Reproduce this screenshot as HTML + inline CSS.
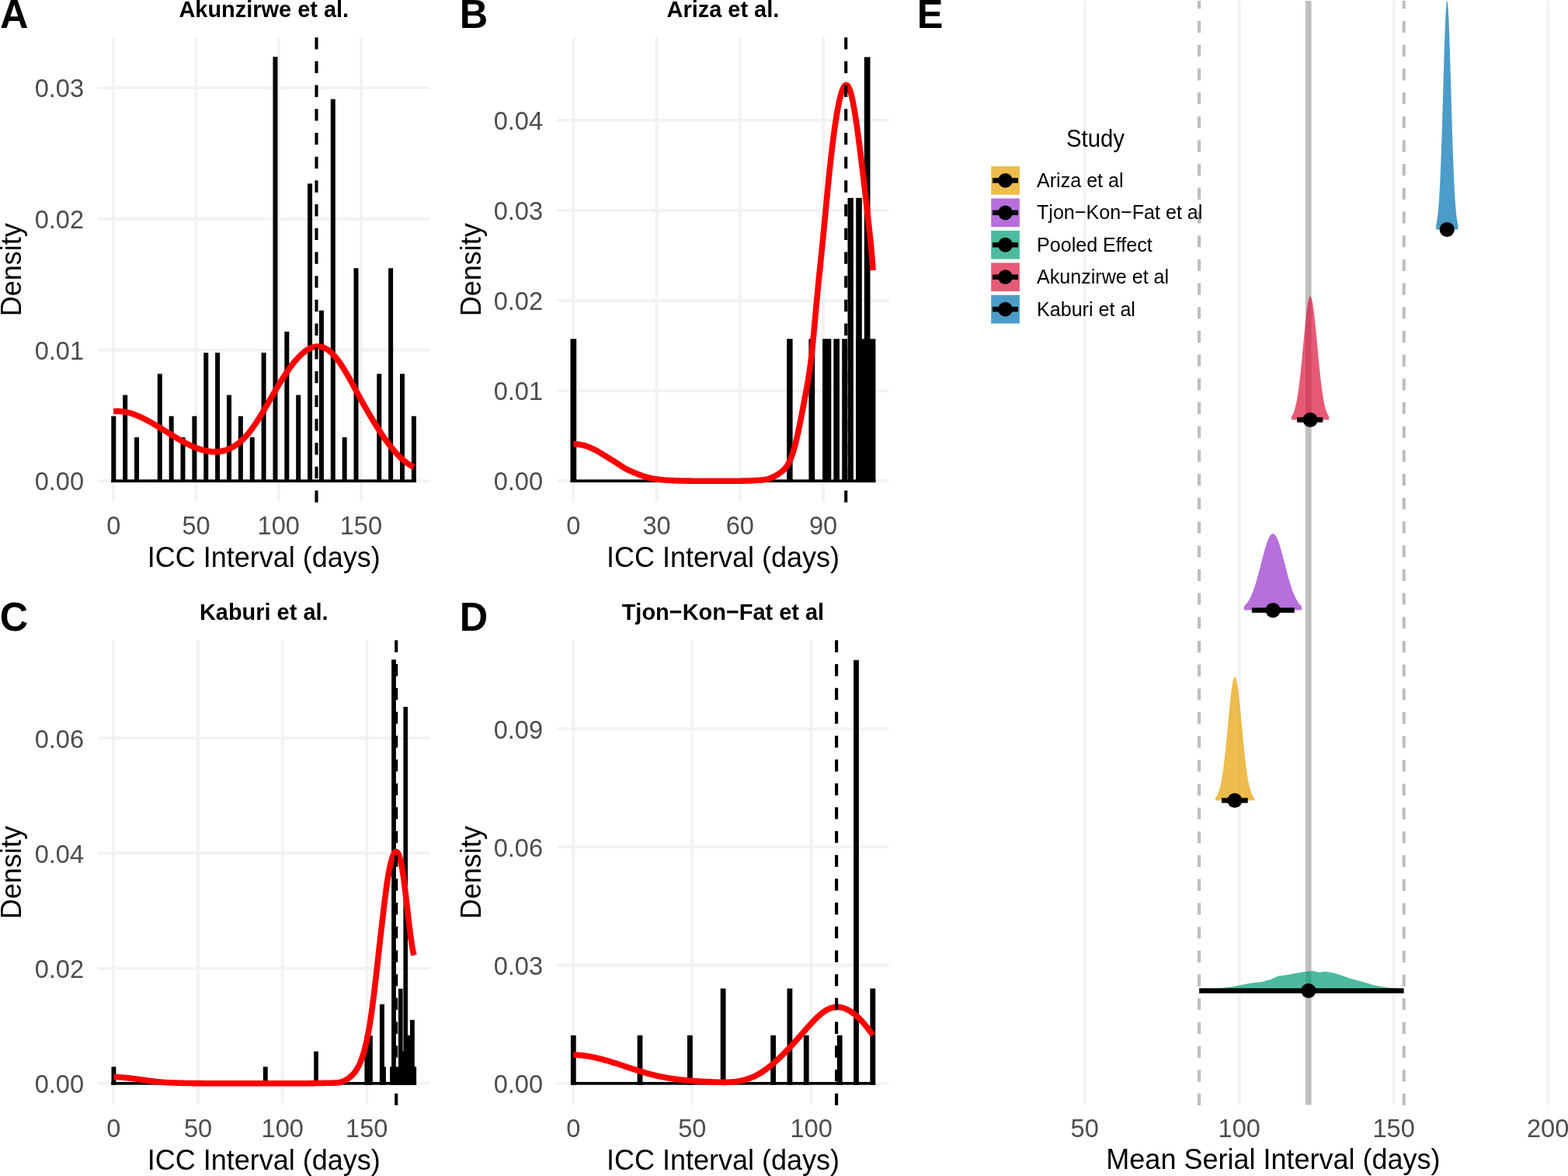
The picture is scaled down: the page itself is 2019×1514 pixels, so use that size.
<!DOCTYPE html>
<html><head><meta charset="utf-8"><title>Figure</title>
<style>html,body{margin:0;padding:0;background:#fff;}svg{display:block;}
text{font-family:"Liberation Sans",Arial,Helvetica,sans-serif;}</style></head>
<body><svg width="2019" height="1514" viewBox="0 0 2019 1514">
<rect width="2019" height="1514" fill="#fff"/>
<line x1="126" y1="619.2" x2="553.5" y2="619.2" stroke="#F2F2F2" stroke-width="3.8"/>
<line x1="126" y1="450.5" x2="553.5" y2="450.5" stroke="#F2F2F2" stroke-width="3.8"/>
<line x1="126" y1="281.8" x2="553.5" y2="281.8" stroke="#F2F2F2" stroke-width="3.8"/>
<line x1="126" y1="113.1" x2="553.5" y2="113.1" stroke="#F2F2F2" stroke-width="3.8"/>
<line x1="146.3" y1="48" x2="146.3" y2="646.3" stroke="#F2F2F2" stroke-width="3.8"/>
<line x1="252.5" y1="48" x2="252.5" y2="646.3" stroke="#F2F2F2" stroke-width="3.8"/>
<line x1="358.7" y1="48" x2="358.7" y2="646.3" stroke="#F2F2F2" stroke-width="3.8"/>
<line x1="464.9" y1="48" x2="464.9" y2="646.3" stroke="#F2F2F2" stroke-width="3.8"/>
<line x1="717" y1="619.2" x2="1144.8" y2="619.2" stroke="#F2F2F2" stroke-width="3.8"/>
<line x1="717" y1="503.1" x2="1144.8" y2="503.1" stroke="#F2F2F2" stroke-width="3.8"/>
<line x1="717" y1="387" x2="1144.8" y2="387" stroke="#F2F2F2" stroke-width="3.8"/>
<line x1="717" y1="270.9" x2="1144.8" y2="270.9" stroke="#F2F2F2" stroke-width="3.8"/>
<line x1="717" y1="154.8" x2="1144.8" y2="154.8" stroke="#F2F2F2" stroke-width="3.8"/>
<line x1="738.35" y1="48" x2="738.35" y2="646.3" stroke="#F2F2F2" stroke-width="3.8"/>
<line x1="845.6" y1="48" x2="845.6" y2="646.3" stroke="#F2F2F2" stroke-width="3.8"/>
<line x1="952.8" y1="48" x2="952.8" y2="646.3" stroke="#F2F2F2" stroke-width="3.8"/>
<line x1="1060.1" y1="48" x2="1060.1" y2="646.3" stroke="#F2F2F2" stroke-width="3.8"/>
<line x1="126" y1="1394.6" x2="553.5" y2="1394.6" stroke="#F2F2F2" stroke-width="3.8"/>
<line x1="126" y1="1246.6" x2="553.5" y2="1246.6" stroke="#F2F2F2" stroke-width="3.8"/>
<line x1="126" y1="1098.4" x2="553.5" y2="1098.4" stroke="#F2F2F2" stroke-width="3.8"/>
<line x1="126" y1="950.3" x2="553.5" y2="950.3" stroke="#F2F2F2" stroke-width="3.8"/>
<line x1="146.3" y1="824" x2="146.3" y2="1422.5" stroke="#F2F2F2" stroke-width="3.8"/>
<line x1="255" y1="824" x2="255" y2="1422.5" stroke="#F2F2F2" stroke-width="3.8"/>
<line x1="363.7" y1="824" x2="363.7" y2="1422.5" stroke="#F2F2F2" stroke-width="3.8"/>
<line x1="472.3" y1="824" x2="472.3" y2="1422.5" stroke="#F2F2F2" stroke-width="3.8"/>
<line x1="717" y1="1394.6" x2="1144.8" y2="1394.6" stroke="#F2F2F2" stroke-width="3.8"/>
<line x1="717" y1="1242.5" x2="1144.8" y2="1242.5" stroke="#F2F2F2" stroke-width="3.8"/>
<line x1="717" y1="1090.3" x2="1144.8" y2="1090.3" stroke="#F2F2F2" stroke-width="3.8"/>
<line x1="717" y1="938.4" x2="1144.8" y2="938.4" stroke="#F2F2F2" stroke-width="3.8"/>
<line x1="738.2" y1="824" x2="738.2" y2="1422.5" stroke="#F2F2F2" stroke-width="3.8"/>
<line x1="891.3" y1="824" x2="891.3" y2="1422.5" stroke="#F2F2F2" stroke-width="3.8"/>
<line x1="1044.6" y1="824" x2="1044.6" y2="1422.5" stroke="#F2F2F2" stroke-width="3.8"/>
<rect x="143.3" y="617.35" width="392.6" height="3.7" fill="#000"/>
<rect x="143.3" y="535.72" width="6" height="85.33" fill="#000"/>
<rect x="158.17" y="508.51" width="6" height="112.54" fill="#000"/>
<rect x="173.04" y="562.93" width="6" height="58.12" fill="#000"/>
<rect x="202.77" y="481.3" width="6" height="139.75" fill="#000"/>
<rect x="217.64" y="535.72" width="6" height="85.33" fill="#000"/>
<rect x="232.51" y="562.93" width="6" height="58.12" fill="#000"/>
<rect x="247.38" y="535.72" width="6" height="85.33" fill="#000"/>
<rect x="262.24" y="454.09" width="6" height="166.96" fill="#000"/>
<rect x="277.11" y="454.09" width="6" height="166.96" fill="#000"/>
<rect x="291.98" y="508.51" width="6" height="112.54" fill="#000"/>
<rect x="306.85" y="535.72" width="6" height="85.33" fill="#000"/>
<rect x="321.72" y="562.93" width="6" height="58.12" fill="#000"/>
<rect x="336.58" y="454.09" width="6" height="166.96" fill="#000"/>
<rect x="351.45" y="73.15" width="6" height="547.9" fill="#000"/>
<rect x="366.32" y="426.88" width="6" height="194.17" fill="#000"/>
<rect x="381.19" y="508.51" width="6" height="112.54" fill="#000"/>
<rect x="396.06" y="236.41" width="6" height="384.64" fill="#000"/>
<rect x="410.92" y="399.67" width="6" height="221.38" fill="#000"/>
<rect x="425.79" y="127.57" width="6" height="493.48" fill="#000"/>
<rect x="440.66" y="562.93" width="6" height="58.12" fill="#000"/>
<rect x="455.53" y="345.25" width="6" height="275.8" fill="#000"/>
<rect x="485.26" y="481.3" width="6" height="139.75" fill="#000"/>
<rect x="500.13" y="345.25" width="6" height="275.8" fill="#000"/>
<rect x="515" y="481.3" width="6" height="139.75" fill="#000"/>
<rect x="529.87" y="535.72" width="6" height="85.33" fill="#000"/>
<path d="M146.1 529.6 L146.88 529.53 L147.65 529.47 L148.43 529.43 L149.2 529.4 L149.98 529.38 L150.75 529.37 L151.53 529.38 L152.3 529.39 L153.08 529.42 L153.85 529.46 L154.63 529.51 L155.4 529.57 L156.18 529.65 L156.95 529.73 L157.73 529.83 L158.5 529.93 L159.28 530.05 L160.05 530.17 L160.83 530.31 L161.6 530.45 L162.38 530.61 L163.15 530.78 L163.93 530.95 L164.7 531.14 L165.48 531.33 L166.25 531.53 L167.03 531.75 L167.8 531.97 L168.58 532.2 L169.35 532.44 L170.13 532.68 L170.9 532.94 L171.68 533.2 L172.46 533.47 L173.23 533.75 L174.01 534.04 L174.78 534.33 L175.56 534.63 L176.33 534.94 L177.11 535.26 L177.88 535.58 L178.66 535.91 L179.43 536.24 L180.21 536.59 L180.98 536.94 L181.76 537.29 L182.53 537.65 L183.31 538.02 L184.08 538.39 L184.86 538.77 L185.63 539.15 L186.41 539.54 L187.18 539.94 L187.96 540.34 L188.73 540.74 L189.51 541.15 L190.28 541.56 L191.06 541.98 L191.83 542.4 L192.61 542.83 L193.38 543.26 L194.16 543.69 L194.93 544.13 L195.71 544.57 L196.48 545.02 L197.26 545.47 L198.04 545.92 L198.81 546.37 L199.59 546.83 L200.36 547.29 L201.14 547.75 L201.91 548.22 L202.69 548.68 L203.46 549.15 L204.24 549.62 L205.01 550.1 L205.79 550.57 L206.56 551.05 L207.34 551.52 L208.11 552 L208.89 552.48 L209.66 552.96 L210.44 553.44 L211.21 553.92 L211.99 554.41 L212.76 554.89 L213.54 555.37 L214.31 555.86 L215.09 556.34 L215.86 556.82 L216.64 557.3 L217.41 557.78 L218.19 558.26 L218.96 558.74 L219.74 559.22 L220.51 559.7 L221.29 560.18 L222.06 560.65 L222.84 561.13 L223.62 561.6 L224.39 562.07 L225.17 562.54 L225.94 563 L226.72 563.47 L227.49 563.93 L228.27 564.38 L229.04 564.84 L229.82 565.29 L230.59 565.74 L231.37 566.19 L232.14 566.63 L232.92 567.07 L233.69 567.51 L234.47 567.94 L235.24 568.37 L236.02 568.79 L236.79 569.21 L237.57 569.63 L238.34 570.04 L239.12 570.45 L239.89 570.85 L240.67 571.24 L241.44 571.64 L242.22 572.02 L242.99 572.4 L243.77 572.78 L244.54 573.15 L245.32 573.51 L246.09 573.87 L246.87 574.22 L247.64 574.57 L248.42 574.91 L249.19 575.24 L249.97 575.56 L250.75 575.88 L251.52 576.2 L252.3 576.5 L253.07 576.8 L253.85 577.09 L254.62 577.37 L255.4 577.65 L256.17 577.91 L256.95 578.17 L257.72 578.42 L258.5 578.66 L259.27 578.9 L260.05 579.12 L260.82 579.34 L261.6 579.55 L262.37 579.75 L263.15 579.93 L263.92 580.11 L264.7 580.29 L265.47 580.45 L266.25 580.6 L267.02 580.74 L267.8 580.87 L268.57 580.99 L269.35 581.1 L270.12 581.2 L270.9 581.29 L271.67 581.37 L272.45 581.43 L273.22 581.49 L274 581.54 L274.77 581.57 L275.55 581.59 L276.33 581.6 L277.1 581.6 L277.88 581.59 L278.65 581.56 L279.43 581.52 L280.2 581.47 L280.98 581.41 L281.75 581.33 L282.53 581.24 L283.3 581.14 L284.08 581.02 L284.85 580.9 L285.63 580.75 L286.4 580.59 L287.18 580.42 L287.95 580.24 L288.73 580.04 L289.5 579.82 L290.28 579.59 L291.05 579.35 L291.83 579.09 L292.6 578.81 L293.38 578.52 L294.15 578.21 L294.93 577.89 L295.7 577.55 L296.48 577.2 L297.25 576.83 L298.03 576.44 L298.8 576.03 L299.58 575.61 L300.35 575.17 L301.13 574.71 L301.91 574.24 L302.68 573.75 L303.46 573.24 L304.23 572.71 L305.01 572.16 L305.78 571.6 L306.56 571.01 L307.33 570.41 L308.11 569.79 L308.88 569.15 L309.66 568.49 L310.43 567.81 L311.21 567.11 L311.98 566.39 L312.76 565.65 L313.53 564.89 L314.31 564.11 L315.08 563.31 L315.86 562.49 L316.63 561.64 L317.41 560.78 L318.18 559.89 L318.96 558.99 L319.73 558.06 L320.51 557.11 L321.28 556.14 L322.06 555.15 L322.83 554.13 L323.61 553.1 L324.38 552.05 L325.16 550.98 L325.93 549.9 L326.71 548.79 L327.49 547.68 L328.26 546.54 L329.04 545.39 L329.81 544.22 L330.59 543.04 L331.36 541.85 L332.14 540.64 L332.91 539.43 L333.69 538.2 L334.46 536.95 L335.24 535.7 L336.01 534.44 L336.79 533.17 L337.56 531.89 L338.34 530.6 L339.11 529.3 L339.89 528 L340.66 526.69 L341.44 525.37 L342.21 524.05 L342.99 522.73 L343.76 521.4 L344.54 520.07 L345.31 518.73 L346.09 517.39 L346.86 516.05 L347.64 514.71 L348.41 513.37 L349.19 512.02 L349.96 510.68 L350.74 509.34 L351.51 508 L352.29 506.67 L353.07 505.33 L353.84 504 L354.62 502.68 L355.39 501.36 L356.17 500.04 L356.94 498.73 L357.72 497.43 L358.49 496.13 L359.27 494.84 L360.04 493.56 L360.82 492.29 L361.59 491.03 L362.37 489.78 L363.14 488.54 L363.92 487.3 L364.69 486.09 L365.47 484.88 L366.24 483.68 L367.02 482.5 L367.79 481.33 L368.57 480.17 L369.34 479.02 L370.12 477.89 L370.89 476.78 L371.67 475.67 L372.44 474.58 L373.22 473.51 L373.99 472.45 L374.77 471.41 L375.54 470.38 L376.32 469.37 L377.09 468.38 L377.87 467.4 L378.65 466.44 L379.42 465.5 L380.2 464.58 L380.97 463.67 L381.75 462.78 L382.52 461.91 L383.3 461.06 L384.07 460.23 L384.85 459.42 L385.62 458.64 L386.4 457.87 L387.17 457.12 L387.95 456.39 L388.72 455.69 L389.5 455 L390.27 454.34 L391.05 453.7 L391.82 453.09 L392.6 452.49 L393.37 451.92 L394.15 451.38 L394.92 450.86 L395.7 450.36 L396.47 449.89 L397.25 449.44 L398.02 449.02 L398.8 448.63 L399.57 448.26 L400.35 447.91 L401.12 447.6 L401.9 447.31 L402.67 447.05 L403.45 446.82 L404.23 446.61 L405 446.43 L405.78 446.29 L406.55 446.17 L407.33 446.08 L408.1 446.02 L408.88 445.99 L409.65 445.99 L410.43 446.02 L411.2 446.09 L411.98 446.18 L412.75 446.31 L413.53 446.47 L414.3 446.66 L415.08 446.88 L415.85 447.14 L416.63 447.43 L417.4 447.75 L418.18 448.11 L418.95 448.5 L419.73 448.92 L420.5 449.38 L421.28 449.87 L422.05 450.39 L422.83 450.94 L423.6 451.52 L424.38 452.14 L425.15 452.78 L425.93 453.46 L426.7 454.17 L427.48 454.9 L428.25 455.67 L429.03 456.46 L429.81 457.28 L430.58 458.14 L431.36 459.02 L432.13 459.93 L432.91 460.86 L433.68 461.83 L434.46 462.82 L435.23 463.83 L436.01 464.88 L436.78 465.95 L437.56 467.05 L438.33 468.17 L439.11 469.31 L439.88 470.48 L440.66 471.68 L441.43 472.89 L442.21 474.12 L442.98 475.38 L443.76 476.65 L444.53 477.94 L445.31 479.24 L446.08 480.56 L446.86 481.9 L447.63 483.25 L448.41 484.61 L449.18 485.98 L449.96 487.36 L450.73 488.75 L451.51 490.15 L452.28 491.56 L453.06 492.97 L453.83 494.38 L454.61 495.8 L455.38 497.23 L456.16 498.65 L456.94 500.08 L457.71 501.51 L458.49 502.93 L459.26 504.35 L460.04 505.77 L460.81 507.19 L461.59 508.61 L462.36 510.02 L463.14 511.43 L463.91 512.83 L464.69 514.23 L465.46 515.63 L466.24 517.02 L467.01 518.41 L467.79 519.79 L468.56 521.17 L469.34 522.54 L470.11 523.91 L470.89 525.27 L471.66 526.63 L472.44 527.98 L473.21 529.33 L473.99 530.67 L474.76 532 L475.54 533.33 L476.31 534.65 L477.09 535.97 L477.86 537.28 L478.64 538.58 L479.41 539.87 L480.19 541.16 L480.96 542.44 L481.74 543.71 L482.52 544.97 L483.29 546.23 L484.07 547.47 L484.84 548.71 L485.62 549.94 L486.39 551.16 L487.17 552.37 L487.94 553.57 L488.72 554.77 L489.49 555.95 L490.27 557.12 L491.04 558.29 L491.82 559.44 L492.59 560.58 L493.37 561.72 L494.14 562.84 L494.92 563.95 L495.69 565.05 L496.47 566.14 L497.24 567.21 L498.02 568.28 L498.79 569.33 L499.57 570.38 L500.34 571.41 L501.12 572.42 L501.89 573.43 L502.67 574.42 L503.44 575.4 L504.22 576.37 L504.99 577.32 L505.77 578.26 L506.54 579.19 L507.32 580.1 L508.1 581 L508.87 581.88 L509.65 582.76 L510.42 583.61 L511.2 584.45 L511.97 585.28 L512.75 586.09 L513.52 586.89 L514.3 587.67 L515.07 588.43 L515.85 589.18 L516.62 589.92 L517.4 590.63 L518.17 591.33 L518.95 592.02 L519.72 592.69 L520.5 593.34 L521.27 593.97 L522.05 594.59 L522.82 595.19 L523.6 595.77 L524.37 596.34 L525.15 596.88 L525.92 597.41 L526.7 597.92 L527.47 598.41 L528.25 598.89 L529.02 599.34 L529.8 599.78 L530.57 600.19 L531.35 600.59 L532.12 600.97 L532.9 601.32" fill="none" stroke="#FF0000" stroke-width="7.6" stroke-linejoin="round"/>
<line x1="407.5" y1="646.8" x2="407.5" y2="48" stroke="#000" stroke-width="4.1" stroke-dasharray="15.35 15.35"/>
<text transform="translate(108.1 631.4) scale(1 1.04)" font-size="32.6" fill="#4D4D4D" text-anchor="end">0.00</text>
<text transform="translate(108.1 462.7) scale(1 1.04)" font-size="32.6" fill="#4D4D4D" text-anchor="end">0.01</text>
<text transform="translate(108.1 294) scale(1 1.04)" font-size="32.6" fill="#4D4D4D" text-anchor="end">0.02</text>
<text transform="translate(108.1 125.3) scale(1 1.04)" font-size="32.6" fill="#4D4D4D" text-anchor="end">0.03</text>
<text transform="translate(146.3 687.9) scale(1 1.04)" font-size="32.6" fill="#4D4D4D" text-anchor="middle">0</text>
<text transform="translate(252.5 687.9) scale(1 1.04)" font-size="32.6" fill="#4D4D4D" text-anchor="middle">50</text>
<text transform="translate(358.7 687.9) scale(1 1.04)" font-size="32.6" fill="#4D4D4D" text-anchor="middle">100</text>
<text transform="translate(464.9 687.9) scale(1 1.04)" font-size="32.6" fill="#4D4D4D" text-anchor="middle">150</text>
<text transform="translate(339.75 729.6) scale(1 1.04)" font-size="36" fill="#000" text-anchor="middle">ICC Interval (days)</text>
<text transform="translate(26.9 347.15) rotate(-90) scale(1 1.04)" font-size="36" fill="#000" text-anchor="middle">Density</text>
<text transform="translate(339.75 22.3) scale(1 1.04)" font-size="28.95" fill="#000" text-anchor="middle" font-weight="bold">Akunzirwe et al.</text>
<text transform="translate(0 35.8) scale(1 1.04)" font-size="50.5" fill="#000" text-anchor="start" font-weight="bold">A</text>
<rect x="734.6" y="617.35" width="392.8" height="3.7" fill="#000"/>
<rect x="734.5" y="436.3" width="7.7" height="184.75" fill="#000"/>
<rect x="1013.1" y="436.3" width="7.5" height="184.75" fill="#000"/>
<rect x="1041.4" y="436.3" width="7.8" height="184.75" fill="#000"/>
<rect x="1059.1" y="436.3" width="11.2" height="184.75" fill="#000"/>
<rect x="1073.3" y="436.3" width="7.7" height="184.75" fill="#000"/>
<rect x="1084.2" y="436.3" width="6.8" height="184.75" fill="#000"/>
<rect x="1102.2" y="436.3" width="25.2" height="184.75" fill="#000"/>
<rect x="1091.5" y="254.8" width="7.4" height="366.25" fill="#000"/>
<rect x="1102.2" y="254.8" width="7.6" height="366.25" fill="#000"/>
<rect x="1112.8" y="73.5" width="7.7" height="547.55" fill="#000"/>
<path d="M738.3 571.6 L739.07 571.61 L739.85 571.65 L740.62 571.69 L741.39 571.75 L742.17 571.82 L742.94 571.91 L743.71 572 L744.49 572.11 L745.26 572.22 L746.03 572.34 L746.8 572.47 L747.58 572.6 L748.35 572.74 L749.12 572.88 L749.9 573.03 L750.67 573.18 L751.44 573.33 L752.22 573.51 L752.99 573.72 L753.76 573.94 L754.54 574.19 L755.31 574.45 L756.08 574.73 L756.86 575.03 L757.63 575.34 L758.4 575.66 L759.17 575.99 L759.95 576.33 L760.72 576.67 L761.49 577.02 L762.27 577.38 L763.04 577.74 L763.81 578.09 L764.59 578.45 L765.36 578.81 L766.13 579.19 L766.91 579.58 L767.68 579.98 L768.45 580.4 L769.23 580.83 L770 581.28 L770.77 581.72 L771.55 582.18 L772.32 582.64 L773.09 583.11 L773.86 583.58 L774.64 584.06 L775.41 584.53 L776.18 585 L776.96 585.47 L777.73 585.94 L778.5 586.4 L779.28 586.86 L780.05 587.33 L780.82 587.8 L781.6 588.27 L782.37 588.74 L783.14 589.22 L783.92 589.7 L784.69 590.18 L785.46 590.66 L786.24 591.14 L787.01 591.63 L787.78 592.11 L788.55 592.6 L789.33 593.08 L790.1 593.56 L790.87 594.05 L791.65 594.53 L792.42 595.01 L793.19 595.5 L793.97 595.99 L794.74 596.49 L795.51 597 L796.29 597.51 L797.06 598.02 L797.83 598.53 L798.61 599.04 L799.38 599.54 L800.15 600.05 L800.92 600.54 L801.7 601.03 L802.47 601.51 L803.24 601.98 L804.02 602.44 L804.79 602.88 L805.56 603.31 L806.34 603.72 L807.11 604.12 L807.88 604.51 L808.66 604.89 L809.43 605.27 L810.2 605.64 L810.98 606 L811.75 606.36 L812.52 606.71 L813.3 607.05 L814.07 607.39 L814.84 607.73 L815.61 608.05 L816.39 608.38 L817.16 608.69 L817.93 609.01 L818.71 609.32 L819.48 609.62 L820.25 609.92 L821.03 610.22 L821.8 610.52 L822.57 610.82 L823.35 611.11 L824.12 611.41 L824.89 611.7 L825.67 611.98 L826.44 612.26 L827.21 612.54 L827.98 612.81 L828.76 613.07 L829.53 613.32 L830.3 613.57 L831.08 613.81 L831.85 614.03 L832.62 614.25 L833.4 614.45 L834.17 614.64 L834.94 614.83 L835.72 615.01 L836.49 615.18 L837.26 615.35 L838.04 615.52 L838.81 615.69 L839.58 615.85 L840.36 616 L841.13 616.15 L841.9 616.29 L842.67 616.43 L843.45 616.56 L844.22 616.69 L844.99 616.81 L845.77 616.92 L846.54 617.03 L847.31 617.13 L848.09 617.22 L848.86 617.31 L849.63 617.4 L850.41 617.48 L851.18 617.56 L851.95 617.64 L852.73 617.72 L853.5 617.79 L854.27 617.86 L855.05 617.93 L855.82 618 L856.59 618.06 L857.36 618.12 L858.14 618.18 L858.91 618.23 L859.68 618.28 L860.46 618.33 L861.23 618.37 L862 618.41 L862.78 618.45 L863.55 618.49 L864.32 618.53 L865.1 618.56 L865.87 618.6 L866.64 618.63 L867.42 618.67 L868.19 618.7 L868.96 618.73 L869.73 618.76 L870.51 618.79 L871.28 618.81 L872.05 618.84 L872.83 618.87 L873.6 618.89 L874.37 618.91 L875.15 618.93 L875.92 618.95 L876.69 618.97 L877.47 618.98 L878.24 619 L879.01 619.01 L879.79 619.02 L880.56 619.03 L881.33 619.04 L882.11 619.06 L882.88 619.07 L883.65 619.08 L884.42 619.09 L885.2 619.1 L885.97 619.11 L886.74 619.12 L887.52 619.13 L888.29 619.14 L889.06 619.15 L889.84 619.16 L890.61 619.17 L891.38 619.18 L892.16 619.19 L892.93 619.2 L893.7 619.21 L894.48 619.21 L895.25 619.22 L896.02 619.23 L896.79 619.24 L897.57 619.24 L898.34 619.25 L899.11 619.26 L899.89 619.26 L900.66 619.27 L901.43 619.27 L902.21 619.28 L902.98 619.28 L903.75 619.28 L904.53 619.29 L905.3 619.29 L906.07 619.29 L906.85 619.3 L907.62 619.3 L908.39 619.3 L909.17 619.3 L909.94 619.3 L910.71 619.3 L911.48 619.3 L912.26 619.3 L913.03 619.3 L913.8 619.3 L914.58 619.3 L915.35 619.3 L916.12 619.3 L916.9 619.3 L917.67 619.3 L918.44 619.3 L919.22 619.3 L919.99 619.3 L920.76 619.3 L921.54 619.3 L922.31 619.3 L923.08 619.3 L923.86 619.3 L924.63 619.3 L925.4 619.3 L926.17 619.3 L926.95 619.3 L927.72 619.3 L928.49 619.3 L929.27 619.3 L930.04 619.3 L930.81 619.3 L931.59 619.3 L932.36 619.3 L933.13 619.3 L933.91 619.3 L934.68 619.3 L935.45 619.3 L936.23 619.3 L937 619.3 L937.77 619.3 L938.54 619.3 L939.32 619.3 L940.09 619.3 L940.86 619.3 L941.64 619.3 L942.41 619.3 L943.18 619.3 L943.96 619.3 L944.73 619.29 L945.5 619.29 L946.28 619.28 L947.05 619.27 L947.82 619.27 L948.6 619.26 L949.37 619.25 L950.14 619.24 L950.92 619.23 L951.69 619.22 L952.46 619.2 L953.23 619.19 L954.01 619.18 L954.78 619.16 L955.55 619.15 L956.33 619.13 L957.1 619.11 L957.87 619.1 L958.65 619.08 L959.42 619.06 L960.19 619.04 L960.97 619.02 L961.74 619.01 L962.51 618.99 L963.29 618.96 L964.06 618.94 L964.83 618.91 L965.61 618.87 L966.38 618.84 L967.15 618.8 L967.92 618.76 L968.7 618.71 L969.47 618.67 L970.24 618.62 L971.02 618.57 L971.79 618.52 L972.56 618.47 L973.34 618.42 L974.11 618.36 L974.88 618.31 L975.66 618.28 L976.43 618.25 L977.2 618.22 L977.98 618.18 L978.75 618.14 L979.52 618.09 L980.29 618.03 L981.07 617.97 L981.84 617.9 L982.61 617.81 L983.39 617.72 L984.16 617.62 L984.93 617.5 L985.71 617.37 L986.48 617.22 L987.25 617.05 L988.03 616.87 L988.8 616.67 L989.57 616.45 L990.35 616.2 L991.12 615.94 L991.89 615.65 L992.67 615.34 L993.44 615.01 L994.21 614.66 L994.98 614.29 L995.76 613.92 L996.53 613.55 L997.3 613.15 L998.08 612.74 L998.85 612.32 L999.62 611.88 L1000.4 611.42 L1001.17 610.95 L1001.94 610.46 L1002.72 609.96 L1003.49 609.43 L1004.26 608.89 L1005.04 608.33 L1005.81 607.76 L1006.58 607.16 L1007.35 606.53 L1008.13 605.86 L1008.9 605.15 L1009.67 604.38 L1010.45 603.56 L1011.22 602.67 L1011.99 601.71 L1012.77 600.67 L1013.54 599.55 L1014.31 598.33 L1015.09 597.01 L1015.86 595.58 L1016.63 594.04 L1017.41 592.38 L1018.18 590.59 L1018.95 588.66 L1019.73 586.6 L1020.5 584.38 L1021.27 582.01 L1022.04 579.47 L1022.82 576.77 L1023.59 573.9 L1024.36 570.89 L1025.14 567.73 L1025.91 564.44 L1026.68 561.04 L1027.46 557.52 L1028.23 553.9 L1029 550.19 L1029.78 546.4 L1030.55 542.53 L1031.32 538.61 L1032.1 534.64 L1032.87 530.63 L1033.64 526.59 L1034.42 522.53 L1035.19 518.45 L1035.96 514.38 L1036.73 510.32 L1037.51 506.26 L1038.28 502.16 L1039.05 497.97 L1039.83 493.63 L1040.6 489.09 L1041.37 484.29 L1042.15 479.2 L1042.92 473.75 L1043.69 467.89 L1044.47 461.58 L1045.24 454.79 L1046.01 447.56 L1046.79 439.93 L1047.56 431.94 L1048.33 423.66 L1049.1 415.19 L1049.88 406.67 L1050.65 398.22 L1051.42 389.87 L1052.2 381.64 L1052.97 373.54 L1053.74 365.57 L1054.52 357.73 L1055.29 350.05 L1056.06 342.51 L1056.84 335.06 L1057.61 327.62 L1058.38 320.08 L1059.16 312.38 L1059.93 304.53 L1060.7 296.54 L1061.48 288.46 L1062.25 280.33 L1063.02 272.17 L1063.79 264.02 L1064.57 255.91 L1065.34 247.89 L1066.11 239.97 L1066.89 232.21 L1067.66 224.63 L1068.43 217.24 L1069.21 210.06 L1069.98 203.09 L1070.75 196.33 L1071.53 189.78 L1072.3 183.46 L1073.07 177.36 L1073.85 171.49 L1074.62 165.85 L1075.39 160.46 L1076.16 155.3 L1076.94 150.4 L1077.71 145.74 L1078.48 141.35 L1079.26 137.21 L1080.03 133.34 L1080.8 129.74 L1081.58 126.41 L1082.35 123.36 L1083.12 120.6 L1083.9 118.12 L1084.67 115.95 L1085.44 114.07 L1086.22 112.51 L1086.99 111.26 L1087.76 110.32 L1088.54 109.71 L1089.31 109.43 L1090.08 109.48 L1090.85 109.88 L1091.63 110.62 L1092.4 111.72 L1093.17 113.17 L1093.95 114.98 L1094.72 117.17 L1095.49 119.72 L1096.27 122.62 L1097.04 125.85 L1097.81 129.41 L1098.59 133.26 L1099.36 137.4 L1100.13 141.81 L1100.91 146.47 L1101.68 151.36 L1102.45 156.47 L1103.23 161.78 L1104 167.28 L1104.77 172.94 L1105.54 178.76 L1106.32 184.71 L1107.09 190.78 L1107.86 196.94 L1108.64 203.2 L1109.41 209.53 L1110.18 215.93 L1110.96 222.39 L1111.73 228.92 L1112.5 235.51 L1113.28 242.15 L1114.05 248.84 L1114.82 255.57 L1115.6 262.35 L1116.37 269.17 L1117.14 276.02 L1117.91 282.9 L1118.69 289.8 L1119.46 296.79 L1120.23 303.99 L1121.01 311.54 L1121.78 319.59 L1122.55 328.27 L1123.33 337.72 L1124.1 348.09" fill="none" stroke="#FF0000" stroke-width="7.6" stroke-linejoin="round"/>
<line x1="1089.2" y1="646.8" x2="1089.2" y2="48" stroke="#000" stroke-width="4.1" stroke-dasharray="15.35 15.35"/>
<text transform="translate(699.1 631.4) scale(1 1.04)" font-size="32.6" fill="#4D4D4D" text-anchor="end">0.00</text>
<text transform="translate(699.1 515.3) scale(1 1.04)" font-size="32.6" fill="#4D4D4D" text-anchor="end">0.01</text>
<text transform="translate(699.1 399.2) scale(1 1.04)" font-size="32.6" fill="#4D4D4D" text-anchor="end">0.02</text>
<text transform="translate(699.1 283.1) scale(1 1.04)" font-size="32.6" fill="#4D4D4D" text-anchor="end">0.03</text>
<text transform="translate(699.1 167) scale(1 1.04)" font-size="32.6" fill="#4D4D4D" text-anchor="end">0.04</text>
<text transform="translate(738.35 687.9) scale(1 1.04)" font-size="32.6" fill="#4D4D4D" text-anchor="middle">0</text>
<text transform="translate(845.6 687.9) scale(1 1.04)" font-size="32.6" fill="#4D4D4D" text-anchor="middle">30</text>
<text transform="translate(952.8 687.9) scale(1 1.04)" font-size="32.6" fill="#4D4D4D" text-anchor="middle">60</text>
<text transform="translate(1060.1 687.9) scale(1 1.04)" font-size="32.6" fill="#4D4D4D" text-anchor="middle">90</text>
<text transform="translate(930.9 729.6) scale(1 1.04)" font-size="36" fill="#000" text-anchor="middle">ICC Interval (days)</text>
<text transform="translate(618.7 347.15) rotate(-90) scale(1 1.04)" font-size="36" fill="#000" text-anchor="middle">Density</text>
<text transform="translate(930.9 22.3) scale(1 1.04)" font-size="28.95" fill="#000" text-anchor="middle" font-weight="bold">Ariza et al.</text>
<text transform="translate(591.8 35.8) scale(1 1.04)" font-size="50.5" fill="#000" text-anchor="start" font-weight="bold">B</text>
<rect x="143.3" y="1392.95" width="392.8" height="3.7" fill="#000"/>
<rect x="143.5" y="1373.4" width="5.9" height="23.25" fill="#000"/>
<rect x="338.8" y="1373.4" width="5.9" height="23.25" fill="#000"/>
<rect x="404.2" y="1353.6" width="5.7" height="43.05" fill="#000"/>
<rect x="469.4" y="1333.3" width="10.4" height="63.35" fill="#000"/>
<rect x="488.9" y="1292.9" width="6" height="103.75" fill="#000"/>
<rect x="491" y="1373.4" width="5.9" height="23.25" fill="#000"/>
<rect x="502.1" y="1373.4" width="34" height="23.25" fill="#000"/>
<rect x="504.1" y="849.2" width="5.8" height="547.45" fill="#000"/>
<rect x="513" y="1272.8" width="5.6" height="123.85" fill="#000"/>
<rect x="516.5" y="1353.5" width="5.5" height="43.15" fill="#000"/>
<rect x="519.4" y="910" width="5.6" height="486.65" fill="#000"/>
<rect x="522" y="1333" width="6" height="63.65" fill="#000"/>
<rect x="528" y="1313.1" width="5.8" height="83.55" fill="#000"/>
<path d="M146.5 1386.4 L147.27 1386.44 L148.05 1386.48 L148.82 1386.52 L149.6 1386.56 L150.37 1386.61 L151.15 1386.66 L151.92 1386.71 L152.7 1386.76 L153.47 1386.81 L154.25 1386.87 L155.02 1386.93 L155.79 1386.99 L156.57 1387.05 L157.34 1387.11 L158.12 1387.17 L158.89 1387.24 L159.67 1387.3 L160.44 1387.37 L161.22 1387.44 L161.99 1387.51 L162.77 1387.58 L163.54 1387.65 L164.31 1387.73 L165.09 1387.81 L165.86 1387.89 L166.64 1387.98 L167.41 1388.07 L168.19 1388.16 L168.96 1388.26 L169.74 1388.35 L170.51 1388.45 L171.29 1388.56 L172.06 1388.66 L172.83 1388.76 L173.61 1388.87 L174.38 1388.97 L175.16 1389.08 L175.93 1389.19 L176.71 1389.29 L177.48 1389.4 L178.26 1389.5 L179.03 1389.61 L179.81 1389.71 L180.58 1389.81 L181.35 1389.91 L182.13 1390.02 L182.9 1390.12 L183.68 1390.23 L184.45 1390.34 L185.23 1390.44 L186 1390.55 L186.78 1390.66 L187.55 1390.77 L188.33 1390.88 L189.1 1390.99 L189.87 1391.1 L190.65 1391.2 L191.42 1391.31 L192.2 1391.41 L192.97 1391.51 L193.75 1391.61 L194.52 1391.71 L195.3 1391.8 L196.07 1391.9 L196.85 1391.98 L197.62 1392.07 L198.39 1392.15 L199.17 1392.24 L199.94 1392.33 L200.72 1392.41 L201.49 1392.5 L202.27 1392.59 L203.04 1392.67 L203.82 1392.75 L204.59 1392.83 L205.37 1392.91 L206.14 1392.99 L206.91 1393.07 L207.69 1393.14 L208.46 1393.21 L209.24 1393.27 L210.01 1393.34 L210.79 1393.4 L211.56 1393.45 L212.34 1393.5 L213.11 1393.54 L213.89 1393.59 L214.66 1393.62 L215.43 1393.66 L216.21 1393.69 L216.98 1393.72 L217.76 1393.76 L218.53 1393.79 L219.31 1393.82 L220.08 1393.85 L220.86 1393.89 L221.63 1393.92 L222.41 1393.95 L223.18 1393.98 L223.95 1394 L224.73 1394.03 L225.5 1394.06 L226.28 1394.09 L227.05 1394.11 L227.83 1394.14 L228.6 1394.17 L229.38 1394.19 L230.15 1394.21 L230.93 1394.24 L231.7 1394.26 L232.47 1394.28 L233.25 1394.3 L234.02 1394.33 L234.8 1394.35 L235.57 1394.37 L236.35 1394.38 L237.12 1394.4 L237.9 1394.42 L238.67 1394.44 L239.45 1394.45 L240.22 1394.47 L240.99 1394.48 L241.77 1394.5 L242.54 1394.51 L243.32 1394.52 L244.09 1394.53 L244.87 1394.55 L245.64 1394.56 L246.42 1394.57 L247.19 1394.57 L247.97 1394.58 L248.74 1394.59 L249.52 1394.6 L250.29 1394.6 L251.06 1394.61 L251.84 1394.61 L252.61 1394.62 L253.39 1394.62 L254.16 1394.63 L254.94 1394.63 L255.71 1394.64 L256.49 1394.65 L257.26 1394.65 L258.04 1394.66 L258.81 1394.66 L259.58 1394.66 L260.36 1394.67 L261.13 1394.67 L261.91 1394.68 L262.68 1394.68 L263.46 1394.69 L264.23 1394.69 L265.01 1394.7 L265.78 1394.7 L266.56 1394.71 L267.33 1394.71 L268.1 1394.71 L268.88 1394.72 L269.65 1394.72 L270.43 1394.73 L271.2 1394.73 L271.98 1394.73 L272.75 1394.74 L273.53 1394.74 L274.3 1394.74 L275.08 1394.75 L275.85 1394.75 L276.62 1394.75 L277.4 1394.76 L278.17 1394.76 L278.95 1394.76 L279.72 1394.76 L280.5 1394.77 L281.27 1394.77 L282.05 1394.77 L282.82 1394.77 L283.6 1394.78 L284.37 1394.78 L285.14 1394.78 L285.92 1394.78 L286.69 1394.78 L287.47 1394.79 L288.24 1394.79 L289.02 1394.79 L289.79 1394.79 L290.57 1394.79 L291.34 1394.79 L292.12 1394.79 L292.89 1394.8 L293.66 1394.8 L294.44 1394.8 L295.21 1394.8 L295.99 1394.8 L296.76 1394.8 L297.54 1394.8 L298.31 1394.8 L299.09 1394.8 L299.86 1394.8 L300.64 1394.8 L301.41 1394.8 L302.18 1394.8 L302.96 1394.8 L303.73 1394.8 L304.51 1394.8 L305.28 1394.8 L306.06 1394.8 L306.83 1394.8 L307.61 1394.8 L308.38 1394.8 L309.16 1394.8 L309.93 1394.8 L310.7 1394.8 L311.48 1394.8 L312.25 1394.8 L313.03 1394.8 L313.8 1394.8 L314.58 1394.8 L315.35 1394.8 L316.13 1394.8 L316.9 1394.8 L317.68 1394.8 L318.45 1394.8 L319.22 1394.8 L320 1394.8 L320.77 1394.8 L321.55 1394.8 L322.32 1394.8 L323.1 1394.8 L323.87 1394.8 L324.65 1394.8 L325.42 1394.8 L326.2 1394.8 L326.97 1394.8 L327.74 1394.8 L328.52 1394.8 L329.29 1394.8 L330.07 1394.8 L330.84 1394.8 L331.62 1394.8 L332.39 1394.8 L333.17 1394.8 L333.94 1394.8 L334.72 1394.8 L335.49 1394.8 L336.26 1394.8 L337.04 1394.8 L337.81 1394.8 L338.59 1394.8 L339.36 1394.8 L340.14 1394.8 L340.91 1394.8 L341.69 1394.8 L342.46 1394.8 L343.24 1394.8 L344.01 1394.8 L344.78 1394.8 L345.56 1394.8 L346.33 1394.8 L347.11 1394.8 L347.88 1394.8 L348.66 1394.8 L349.43 1394.8 L350.21 1394.8 L350.98 1394.8 L351.76 1394.8 L352.53 1394.8 L353.3 1394.8 L354.08 1394.8 L354.85 1394.8 L355.63 1394.8 L356.4 1394.8 L357.18 1394.8 L357.95 1394.8 L358.73 1394.8 L359.5 1394.8 L360.28 1394.8 L361.05 1394.8 L361.82 1394.8 L362.6 1394.8 L363.37 1394.8 L364.15 1394.8 L364.92 1394.8 L365.7 1394.8 L366.47 1394.8 L367.25 1394.8 L368.02 1394.8 L368.8 1394.8 L369.57 1394.8 L370.34 1394.8 L371.12 1394.8 L371.89 1394.8 L372.67 1394.8 L373.44 1394.8 L374.22 1394.8 L374.99 1394.8 L375.77 1394.8 L376.54 1394.8 L377.32 1394.8 L378.09 1394.8 L378.86 1394.8 L379.64 1394.8 L380.41 1394.8 L381.19 1394.8 L381.96 1394.8 L382.74 1394.8 L383.51 1394.8 L384.29 1394.79 L385.06 1394.79 L385.84 1394.79 L386.61 1394.78 L387.38 1394.78 L388.16 1394.78 L388.93 1394.77 L389.71 1394.77 L390.48 1394.76 L391.26 1394.76 L392.03 1394.75 L392.81 1394.74 L393.58 1394.74 L394.36 1394.73 L395.13 1394.72 L395.9 1394.71 L396.68 1394.71 L397.45 1394.7 L398.23 1394.69 L399 1394.68 L399.78 1394.67 L400.55 1394.66 L401.33 1394.65 L402.1 1394.64 L402.88 1394.63 L403.65 1394.62 L404.42 1394.6 L405.2 1394.59 L405.97 1394.58 L406.75 1394.57 L407.52 1394.55 L408.3 1394.54 L409.07 1394.53 L409.85 1394.51 L410.62 1394.5 L411.4 1394.48 L412.17 1394.47 L412.94 1394.45 L413.72 1394.44 L414.49 1394.42 L415.27 1394.41 L416.04 1394.39 L416.82 1394.37 L417.59 1394.36 L418.37 1394.34 L419.14 1394.32 L419.92 1394.3 L420.69 1394.29 L421.46 1394.29 L422.24 1394.28 L423.01 1394.27 L423.79 1394.26 L424.56 1394.25 L425.34 1394.24 L426.11 1394.23 L426.89 1394.22 L427.66 1394.2 L428.44 1394.19 L429.21 1394.17 L429.98 1394.15 L430.76 1394.13 L431.53 1394.1 L432.31 1394.05 L433.08 1394 L433.86 1393.94 L434.63 1393.87 L435.41 1393.77 L436.18 1393.66 L436.96 1393.52 L437.73 1393.36 L438.51 1393.17 L439.28 1392.95 L440.05 1392.7 L440.83 1392.43 L441.6 1392.13 L442.38 1391.81 L443.15 1391.47 L443.93 1391.1 L444.7 1390.71 L445.48 1390.29 L446.25 1389.84 L447.03 1389.36 L447.8 1388.85 L448.57 1388.32 L449.35 1387.75 L450.12 1387.15 L450.9 1386.51 L451.67 1385.84 L452.45 1385.14 L453.22 1384.4 L454 1383.63 L454.77 1382.81 L455.55 1381.94 L456.32 1381.01 L457.09 1380.02 L457.87 1378.96 L458.64 1377.83 L459.42 1376.62 L460.19 1375.32 L460.97 1373.94 L461.74 1372.45 L462.52 1370.87 L463.29 1369.17 L464.07 1367.36 L464.84 1365.43 L465.61 1363.37 L466.39 1361.18 L467.16 1358.85 L467.94 1356.37 L468.71 1353.75 L469.49 1350.97 L470.26 1348.02 L471.04 1344.89 L471.81 1341.57 L472.59 1338.04 L473.36 1334.3 L474.13 1330.32 L474.91 1326.1 L475.68 1321.62 L476.46 1316.88 L477.23 1311.85 L478.01 1306.56 L478.78 1301.01 L479.56 1295.23 L480.33 1289.24 L481.11 1283.07 L481.88 1276.73 L482.65 1270.24 L483.43 1263.63 L484.2 1256.91 L484.98 1250.11 L485.75 1243.25 L486.53 1236.34 L487.3 1229.42 L488.08 1222.49 L488.85 1215.58 L489.63 1208.69 L490.4 1201.84 L491.17 1195.05 L491.95 1188.31 L492.72 1181.66 L493.5 1175.09 L494.27 1168.62 L495.05 1162.26 L495.82 1156.03 L496.6 1149.94 L497.37 1144.07 L498.15 1138.47 L498.92 1133.24 L499.69 1128.4 L500.47 1123.95 L501.24 1119.87 L502.02 1116.12 L502.79 1112.68 L503.57 1109.54 L504.34 1106.72 L505.12 1104.22 L505.89 1102.05 L506.67 1100.23 L507.44 1098.76 L508.21 1097.66 L508.99 1096.93 L509.76 1096.58 L510.54 1096.63 L511.31 1097.08 L512.09 1097.95 L512.86 1099.25 L513.64 1100.97 L514.41 1103.15 L515.19 1105.78 L515.96 1108.87 L516.73 1112.44 L517.51 1116.5 L518.28 1121.05 L519.06 1126.09 L519.83 1131.57 L520.61 1137.42 L521.38 1143.58 L522.16 1149.98 L522.93 1156.56 L523.71 1163.27 L524.48 1170.03 L525.25 1176.78 L526.03 1183.46 L526.8 1190 L527.58 1196.35 L528.35 1202.44 L529.13 1208.2 L529.9 1213.58 L530.68 1218.51 L531.45 1222.92 L532.23 1226.75 L533 1229.95" fill="none" stroke="#FF0000" stroke-width="7.6" stroke-linejoin="round"/>
<line x1="510.2" y1="1423" x2="510.2" y2="824" stroke="#000" stroke-width="4.1" stroke-dasharray="15.35 15.35"/>
<text transform="translate(108.1 1406.8) scale(1 1.04)" font-size="32.6" fill="#4D4D4D" text-anchor="end">0.00</text>
<text transform="translate(108.1 1258.8) scale(1 1.04)" font-size="32.6" fill="#4D4D4D" text-anchor="end">0.02</text>
<text transform="translate(108.1 1110.6) scale(1 1.04)" font-size="32.6" fill="#4D4D4D" text-anchor="end">0.04</text>
<text transform="translate(108.1 962.5) scale(1 1.04)" font-size="32.6" fill="#4D4D4D" text-anchor="end">0.06</text>
<text transform="translate(146.3 1464.1) scale(1 1.04)" font-size="32.6" fill="#4D4D4D" text-anchor="middle">0</text>
<text transform="translate(255 1464.1) scale(1 1.04)" font-size="32.6" fill="#4D4D4D" text-anchor="middle">50</text>
<text transform="translate(363.7 1464.1) scale(1 1.04)" font-size="32.6" fill="#4D4D4D" text-anchor="middle">100</text>
<text transform="translate(472.3 1464.1) scale(1 1.04)" font-size="32.6" fill="#4D4D4D" text-anchor="middle">150</text>
<text transform="translate(339.75 1505.8) scale(1 1.04)" font-size="36" fill="#000" text-anchor="middle">ICC Interval (days)</text>
<text transform="translate(26.7 1123.25) rotate(-90) scale(1 1.04)" font-size="36" fill="#000" text-anchor="middle">Density</text>
<text transform="translate(339.75 798.4) scale(1 1.04)" font-size="28.95" fill="#000" text-anchor="middle" font-weight="bold">Kaburi et al.</text>
<text transform="translate(-0.2 812.2) scale(1 1.04)" font-size="50.5" fill="#000" text-anchor="start" font-weight="bold">C</text>
<rect x="734.9" y="1392.95" width="392.3" height="3.7" fill="#000"/>
<rect x="734.9" y="1332.9" width="6.8" height="63.75" fill="#000"/>
<rect x="820.6" y="1332.9" width="6.8" height="63.75" fill="#000"/>
<rect x="885" y="1332.9" width="6.8" height="63.75" fill="#000"/>
<rect x="927.7" y="1272.6" width="6.8" height="124.05" fill="#000"/>
<rect x="992.2" y="1332.9" width="6.8" height="63.75" fill="#000"/>
<rect x="1013.5" y="1272.6" width="6.8" height="124.05" fill="#000"/>
<rect x="1034.8" y="1332.9" width="6.8" height="63.75" fill="#000"/>
<rect x="1077.8" y="1332.9" width="6.8" height="63.75" fill="#000"/>
<rect x="1099.1" y="849.8" width="6.8" height="546.85" fill="#000"/>
<rect x="1120.4" y="1272.6" width="6.8" height="124.05" fill="#000"/>
<path d="M738.2 1358.1 L738.97 1358.11 L739.75 1358.13 L740.52 1358.15 L741.29 1358.17 L742.07 1358.2 L742.84 1358.24 L743.61 1358.28 L744.39 1358.33 L745.16 1358.38 L745.93 1358.44 L746.7 1358.5 L747.48 1358.57 L748.25 1358.64 L749.02 1358.72 L749.8 1358.8 L750.57 1358.89 L751.34 1358.98 L752.12 1359.08 L752.89 1359.18 L753.66 1359.28 L754.44 1359.39 L755.21 1359.5 L755.98 1359.62 L756.76 1359.74 L757.53 1359.87 L758.3 1360 L759.07 1360.13 L759.85 1360.27 L760.62 1360.41 L761.39 1360.56 L762.17 1360.71 L762.94 1360.86 L763.71 1361.02 L764.49 1361.18 L765.26 1361.34 L766.03 1361.51 L766.81 1361.68 L767.58 1361.85 L768.35 1362.03 L769.13 1362.21 L769.9 1362.39 L770.67 1362.58 L771.45 1362.76 L772.22 1362.96 L772.99 1363.15 L773.76 1363.35 L774.54 1363.55 L775.31 1363.75 L776.08 1363.96 L776.86 1364.16 L777.63 1364.37 L778.4 1364.59 L779.18 1364.8 L779.95 1365.02 L780.72 1365.24 L781.5 1365.46 L782.27 1365.68 L783.04 1365.91 L783.82 1366.14 L784.59 1366.37 L785.36 1366.6 L786.14 1366.83 L786.91 1367.06 L787.68 1367.3 L788.45 1367.54 L789.23 1367.78 L790 1368.02 L790.77 1368.26 L791.55 1368.5 L792.32 1368.75 L793.09 1368.99 L793.87 1369.24 L794.64 1369.49 L795.41 1369.74 L796.19 1369.99 L796.96 1370.24 L797.73 1370.49 L798.51 1370.74 L799.28 1370.99 L800.05 1371.25 L800.82 1371.5 L801.6 1371.76 L802.37 1372.01 L803.14 1372.27 L803.92 1372.52 L804.69 1372.78 L805.46 1373.03 L806.24 1373.29 L807.01 1373.54 L807.78 1373.8 L808.56 1374.06 L809.33 1374.31 L810.1 1374.57 L810.88 1374.82 L811.65 1375.08 L812.42 1375.33 L813.2 1375.58 L813.97 1375.84 L814.74 1376.09 L815.51 1376.34 L816.29 1376.59 L817.06 1376.84 L817.83 1377.09 L818.61 1377.34 L819.38 1377.59 L820.15 1377.84 L820.93 1378.08 L821.7 1378.32 L822.47 1378.57 L823.25 1378.81 L824.02 1379.05 L824.79 1379.29 L825.57 1379.53 L826.34 1379.76 L827.11 1380 L827.88 1380.23 L828.66 1380.46 L829.43 1380.69 L830.2 1380.91 L830.98 1381.14 L831.75 1381.36 L832.52 1381.58 L833.3 1381.8 L834.07 1382.02 L834.84 1382.23 L835.62 1382.44 L836.39 1382.65 L837.16 1382.86 L837.94 1383.06 L838.71 1383.27 L839.48 1383.47 L840.26 1383.66 L841.03 1383.86 L841.8 1384.05 L842.57 1384.23 L843.35 1384.42 L844.12 1384.6 L844.89 1384.78 L845.67 1384.96 L846.44 1385.13 L847.21 1385.3 L847.99 1385.47 L848.76 1385.64 L849.53 1385.8 L850.31 1385.96 L851.08 1386.12 L851.85 1386.28 L852.63 1386.43 L853.4 1386.58 L854.17 1386.73 L854.95 1386.87 L855.72 1387.02 L856.49 1387.16 L857.26 1387.3 L858.04 1387.43 L858.81 1387.57 L859.58 1387.7 L860.36 1387.83 L861.13 1387.96 L861.9 1388.08 L862.68 1388.2 L863.45 1388.32 L864.22 1388.44 L865 1388.56 L865.77 1388.67 L866.54 1388.79 L867.32 1388.9 L868.09 1389 L868.86 1389.11 L869.63 1389.21 L870.41 1389.32 L871.18 1389.42 L871.95 1389.52 L872.73 1389.61 L873.5 1389.71 L874.27 1389.8 L875.05 1389.89 L875.82 1389.98 L876.59 1390.07 L877.37 1390.16 L878.14 1390.24 L878.91 1390.32 L879.69 1390.4 L880.46 1390.48 L881.23 1390.56 L882.01 1390.64 L882.78 1390.71 L883.55 1390.79 L884.32 1390.86 L885.1 1390.93 L885.87 1391 L886.64 1391.07 L887.42 1391.13 L888.19 1391.2 L888.96 1391.26 L889.74 1391.33 L890.51 1391.39 L891.28 1391.45 L892.06 1391.51 L892.83 1391.56 L893.6 1391.62 L894.38 1391.68 L895.15 1391.73 L895.92 1391.79 L896.69 1391.84 L897.47 1391.89 L898.24 1391.94 L899.01 1391.99 L899.79 1392.04 L900.56 1392.09 L901.33 1392.13 L902.11 1392.18 L902.88 1392.22 L903.65 1392.27 L904.43 1392.31 L905.2 1392.36 L905.97 1392.4 L906.75 1392.44 L907.52 1392.48 L908.29 1392.52 L909.07 1392.56 L909.84 1392.6 L910.61 1392.64 L911.38 1392.67 L912.16 1392.71 L912.93 1392.75 L913.7 1392.79 L914.48 1392.82 L915.25 1392.86 L916.02 1392.89 L916.8 1392.93 L917.57 1392.96 L918.34 1393 L919.12 1393.03 L919.89 1393.06 L920.66 1393.09 L921.44 1393.12 L922.21 1393.15 L922.98 1393.18 L923.76 1393.21 L924.53 1393.23 L925.3 1393.25 L926.07 1393.27 L926.85 1393.29 L927.62 1393.31 L928.39 1393.32 L929.17 1393.33 L929.94 1393.34 L930.71 1393.34 L931.49 1393.35 L932.26 1393.35 L933.03 1393.34 L933.81 1393.33 L934.58 1393.32 L935.35 1393.31 L936.13 1393.29 L936.9 1393.26 L937.67 1393.23 L938.44 1393.2 L939.22 1393.17 L939.99 1393.12 L940.76 1393.08 L941.54 1393.03 L942.31 1392.97 L943.08 1392.91 L943.86 1392.84 L944.63 1392.76 L945.4 1392.69 L946.18 1392.6 L946.95 1392.51 L947.72 1392.41 L948.5 1392.31 L949.27 1392.2 L950.04 1392.08 L950.82 1391.96 L951.59 1391.83 L952.36 1391.69 L953.13 1391.54 L953.91 1391.39 L954.68 1391.23 L955.45 1391.06 L956.23 1390.89 L957 1390.7 L957.77 1390.51 L958.55 1390.31 L959.32 1390.1 L960.09 1389.88 L960.87 1389.66 L961.64 1389.42 L962.41 1389.18 L963.19 1388.92 L963.96 1388.66 L964.73 1388.39 L965.51 1388.1 L966.28 1387.81 L967.05 1387.51 L967.82 1387.2 L968.6 1386.87 L969.37 1386.54 L970.14 1386.2 L970.92 1385.84 L971.69 1385.48 L972.46 1385.1 L973.24 1384.71 L974.01 1384.31 L974.78 1383.9 L975.56 1383.48 L976.33 1383.05 L977.1 1382.61 L977.88 1382.16 L978.65 1381.7 L979.42 1381.23 L980.19 1380.74 L980.97 1380.25 L981.74 1379.75 L982.51 1379.24 L983.29 1378.72 L984.06 1378.19 L984.83 1377.65 L985.61 1377.1 L986.38 1376.54 L987.15 1375.97 L987.93 1375.4 L988.7 1374.81 L989.47 1374.22 L990.25 1373.62 L991.02 1373.01 L991.79 1372.39 L992.57 1371.77 L993.34 1371.13 L994.11 1370.49 L994.88 1369.84 L995.66 1369.18 L996.43 1368.52 L997.2 1367.84 L997.98 1367.16 L998.75 1366.48 L999.52 1365.78 L1000.3 1365.08 L1001.07 1364.37 L1001.84 1363.66 L1002.62 1362.94 L1003.39 1362.21 L1004.16 1361.47 L1004.94 1360.73 L1005.71 1359.99 L1006.48 1359.23 L1007.25 1358.48 L1008.03 1357.71 L1008.8 1356.94 L1009.57 1356.17 L1010.35 1355.38 L1011.12 1354.6 L1011.89 1353.81 L1012.67 1353.01 L1013.44 1352.21 L1014.21 1351.4 L1014.99 1350.59 L1015.76 1349.78 L1016.53 1348.96 L1017.31 1348.13 L1018.08 1347.3 L1018.85 1346.47 L1019.63 1345.63 L1020.4 1344.79 L1021.17 1343.95 L1021.94 1343.1 L1022.72 1342.25 L1023.49 1341.39 L1024.26 1340.53 L1025.04 1339.67 L1025.81 1338.81 L1026.58 1337.94 L1027.36 1337.07 L1028.13 1336.2 L1028.9 1335.32 L1029.68 1334.44 L1030.45 1333.56 L1031.22 1332.68 L1032 1331.79 L1032.77 1330.91 L1033.54 1330.02 L1034.32 1329.13 L1035.09 1328.24 L1035.86 1327.35 L1036.63 1326.46 L1037.41 1325.58 L1038.18 1324.69 L1038.95 1323.81 L1039.73 1322.93 L1040.5 1322.06 L1041.27 1321.19 L1042.05 1320.33 L1042.82 1319.47 L1043.59 1318.62 L1044.37 1317.77 L1045.14 1316.94 L1045.91 1316.11 L1046.69 1315.29 L1047.46 1314.48 L1048.23 1313.68 L1049 1312.89 L1049.78 1312.11 L1050.55 1311.34 L1051.32 1310.59 L1052.1 1309.85 L1052.87 1309.12 L1053.64 1308.41 L1054.42 1307.71 L1055.19 1307.03 L1055.96 1306.36 L1056.74 1305.71 L1057.51 1305.08 L1058.28 1304.47 L1059.06 1303.87 L1059.83 1303.3 L1060.6 1302.74 L1061.38 1302.2 L1062.15 1301.69 L1062.92 1301.19 L1063.69 1300.72 L1064.47 1300.27 L1065.24 1299.85 L1066.01 1299.45 L1066.79 1299.07 L1067.56 1298.72 L1068.33 1298.39 L1069.11 1298.1 L1069.88 1297.82 L1070.65 1297.57 L1071.43 1297.35 L1072.2 1297.15 L1072.97 1296.98 L1073.75 1296.84 L1074.52 1296.71 L1075.29 1296.62 L1076.06 1296.55 L1076.84 1296.5 L1077.61 1296.47 L1078.38 1296.47 L1079.16 1296.5 L1079.93 1296.55 L1080.7 1296.62 L1081.48 1296.71 L1082.25 1296.83 L1083.02 1296.97 L1083.8 1297.13 L1084.57 1297.32 L1085.34 1297.53 L1086.12 1297.76 L1086.89 1298.01 L1087.66 1298.29 L1088.44 1298.59 L1089.21 1298.9 L1089.98 1299.24 L1090.75 1299.61 L1091.53 1299.99 L1092.3 1300.39 L1093.07 1300.82 L1093.85 1301.26 L1094.62 1301.73 L1095.39 1302.21 L1096.17 1302.72 L1096.94 1303.25 L1097.71 1303.79 L1098.49 1304.36 L1099.26 1304.94 L1100.03 1305.55 L1100.81 1306.17 L1101.58 1306.81 L1102.35 1307.47 L1103.13 1308.15 L1103.9 1308.85 L1104.67 1309.56 L1105.44 1310.3 L1106.22 1311.05 L1106.99 1311.82 L1107.76 1312.61 L1108.54 1313.41 L1109.31 1314.23 L1110.08 1315.07 L1110.86 1315.93 L1111.63 1316.8 L1112.4 1317.69 L1113.18 1318.59 L1113.95 1319.52 L1114.72 1320.45 L1115.5 1321.41 L1116.27 1322.38 L1117.04 1323.36 L1117.81 1324.36 L1118.59 1325.37 L1119.36 1326.4 L1120.13 1327.45 L1120.91 1328.51 L1121.68 1329.58 L1122.45 1330.67 L1123.23 1331.77 L1124 1332.89" fill="none" stroke="#FF0000" stroke-width="7.6" stroke-linejoin="round"/>
<line x1="1077.1" y1="1423" x2="1077.1" y2="824" stroke="#000" stroke-width="4.1" stroke-dasharray="15.35 15.35"/>
<text transform="translate(699.1 1406.8) scale(1 1.04)" font-size="32.6" fill="#4D4D4D" text-anchor="end">0.00</text>
<text transform="translate(699.1 1254.7) scale(1 1.04)" font-size="32.6" fill="#4D4D4D" text-anchor="end">0.03</text>
<text transform="translate(699.1 1102.5) scale(1 1.04)" font-size="32.6" fill="#4D4D4D" text-anchor="end">0.06</text>
<text transform="translate(699.1 950.6) scale(1 1.04)" font-size="32.6" fill="#4D4D4D" text-anchor="end">0.09</text>
<text transform="translate(738.2 1464.1) scale(1 1.04)" font-size="32.6" fill="#4D4D4D" text-anchor="middle">0</text>
<text transform="translate(891.3 1464.1) scale(1 1.04)" font-size="32.6" fill="#4D4D4D" text-anchor="middle">50</text>
<text transform="translate(1044.6 1464.1) scale(1 1.04)" font-size="32.6" fill="#4D4D4D" text-anchor="middle">100</text>
<text transform="translate(930.9 1505.8) scale(1 1.04)" font-size="36" fill="#000" text-anchor="middle">ICC Interval (days)</text>
<text transform="translate(618.7 1123.25) rotate(-90) scale(1 1.04)" font-size="36" fill="#000" text-anchor="middle">Density</text>
<text transform="translate(930.9 798.2) scale(1 1.04)" font-size="28.95" fill="#000" text-anchor="middle" font-weight="bold">Tjon&#8722;Kon&#8722;Fat et al</text>
<text transform="translate(591.8 811.9) scale(1 1.04)" font-size="50.5" fill="#000" text-anchor="start" font-weight="bold">D</text>
<line x1="1396.7" y1="1" x2="1396.7" y2="1422.5" stroke="#F2F2F2" stroke-width="3.8"/>
<line x1="1595.7" y1="1" x2="1595.7" y2="1422.5" stroke="#F2F2F2" stroke-width="3.8"/>
<line x1="1794.6" y1="1" x2="1794.6" y2="1422.5" stroke="#F2F2F2" stroke-width="3.8"/>
<line x1="1993.1" y1="1" x2="1993.1" y2="1422.5" stroke="#F2F2F2" stroke-width="3.8"/>
<line x1="1684.8" y1="1" x2="1684.8" y2="1422.5" stroke="#BEBEBE" stroke-width="7.6"/>
<line x1="1544.1" y1="1423.1" x2="1544.1" y2="1" stroke="#BEBEBE" stroke-width="4.2" stroke-dasharray="15.1 15.59"/>
<line x1="1807.7" y1="1423.1" x2="1807.7" y2="1" stroke="#BEBEBE" stroke-width="4.2" stroke-dasharray="15.1 15.59"/>
<path d="M1849.2 295.5 L1849.2 289.05 L1849.43 288.19 L1849.67 287.22 L1849.9 286.14 L1850.14 284.95 L1850.38 283.63 L1850.61 282.18 L1850.85 280.57 L1851.08 278.81 L1851.32 276.88 L1851.55 274.78 L1851.79 272.48 L1852.02 269.98 L1852.26 267.28 L1852.49 264.35 L1852.72 261.19 L1852.96 257.79 L1853.19 254.14 L1853.43 250.23 L1853.66 246.06 L1853.9 241.62 L1854.13 236.91 L1854.37 231.92 L1854.61 226.65 L1854.84 221.1 L1855.08 215.28 L1855.31 209.18 L1855.55 202.82 L1855.78 196.2 L1856.02 189.33 L1856.25 182.22 L1856.48 174.9 L1856.72 167.38 L1856.95 159.68 L1857.19 151.81 L1857.42 143.82 L1857.66 135.72 L1857.89 127.55 L1858.13 119.33 L1858.37 111.1 L1858.6 102.9 L1858.84 94.75 L1859.07 86.71 L1859.31 78.81 L1859.54 71.08 L1859.78 63.57 L1860.01 56.32 L1860.24 49.37 L1860.48 42.75 L1860.71 36.5 L1860.95 30.66 L1861.18 25.27 L1861.42 20.34 L1861.65 15.93 L1861.89 12.04 L1862.12 8.71 L1862.36 5.96 L1862.6 3.8 L1862.83 2.25 L1863.07 1.31 L1863.3 1 L1863.53 1.31 L1863.77 2.25 L1864 3.8 L1864.24 5.96 L1864.47 8.71 L1864.71 12.04 L1864.94 15.93 L1865.18 20.34 L1865.41 25.27 L1865.65 30.66 L1865.88 36.5 L1866.12 42.75 L1866.36 49.37 L1866.59 56.32 L1866.82 63.57 L1867.06 71.08 L1867.29 78.81 L1867.53 86.71 L1867.76 94.75 L1868 102.9 L1868.23 111.1 L1868.47 119.33 L1868.7 127.55 L1868.94 135.72 L1869.17 143.82 L1869.41 151.81 L1869.64 159.68 L1869.88 167.38 L1870.12 174.9 L1870.35 182.22 L1870.58 189.33 L1870.82 196.2 L1871.05 202.82 L1871.29 209.18 L1871.52 215.28 L1871.76 221.1 L1871.99 226.65 L1872.23 231.92 L1872.46 236.91 L1872.7 241.62 L1872.93 246.06 L1873.17 250.23 L1873.4 254.14 L1873.64 257.79 L1873.88 261.19 L1874.11 264.35 L1874.34 267.28 L1874.58 269.98 L1874.81 272.48 L1875.05 274.78 L1875.28 276.88 L1875.52 278.81 L1875.75 280.57 L1875.99 282.18 L1876.22 283.63 L1876.46 284.95 L1876.69 286.14 L1876.93 287.22 L1877.16 288.19 L1877.4 289.05 L1877.4 295.5 Z" fill="#0072B2" fill-opacity="0.7"/>
<path d="M1663 540.5 L1663 536.09 L1663.4 535.53 L1663.8 534.92 L1664.2 534.24 L1664.61 533.49 L1665.01 532.67 L1665.41 531.78 L1665.81 530.79 L1666.21 529.72 L1666.62 528.56 L1667.02 527.3 L1667.42 525.93 L1667.82 524.45 L1668.22 522.86 L1668.62 521.15 L1669.03 519.31 L1669.43 517.35 L1669.83 515.25 L1670.23 513.02 L1670.63 510.65 L1671.03 508.15 L1671.43 505.5 L1671.84 502.71 L1672.24 499.78 L1672.64 496.71 L1673.04 493.5 L1673.44 490.16 L1673.85 486.68 L1674.25 483.08 L1674.65 479.36 L1675.05 475.53 L1675.45 471.6 L1675.85 467.58 L1676.25 463.47 L1676.66 459.3 L1677.06 455.07 L1677.46 450.8 L1677.86 446.5 L1678.26 442.19 L1678.66 437.89 L1679.07 433.61 L1679.47 429.38 L1679.87 425.21 L1680.27 421.12 L1680.67 417.13 L1681.07 413.26 L1681.48 409.53 L1681.88 405.96 L1682.28 402.57 L1682.68 399.37 L1683.08 396.39 L1683.48 393.64 L1683.89 391.13 L1684.29 388.88 L1684.69 386.91 L1685.09 385.21 L1685.49 383.82 L1685.89 382.72 L1686.3 381.93 L1686.7 381.46 L1687.1 381.3 L1687.5 381.46 L1687.9 381.93 L1688.3 382.72 L1688.71 383.82 L1689.11 385.21 L1689.51 386.91 L1689.91 388.88 L1690.31 391.13 L1690.71 393.64 L1691.12 396.39 L1691.52 399.37 L1691.92 402.57 L1692.32 405.96 L1692.72 409.53 L1693.12 413.26 L1693.53 417.13 L1693.93 421.12 L1694.33 425.21 L1694.73 429.38 L1695.13 433.61 L1695.53 437.89 L1695.94 442.19 L1696.34 446.5 L1696.74 450.8 L1697.14 455.07 L1697.54 459.3 L1697.94 463.47 L1698.35 467.58 L1698.75 471.6 L1699.15 475.53 L1699.55 479.36 L1699.95 483.08 L1700.35 486.68 L1700.76 490.16 L1701.16 493.5 L1701.56 496.71 L1701.96 499.78 L1702.36 502.71 L1702.76 505.5 L1703.17 508.15 L1703.57 510.65 L1703.97 513.02 L1704.37 515.25 L1704.77 517.35 L1705.17 519.31 L1705.58 521.15 L1705.98 522.86 L1706.38 524.45 L1706.78 525.93 L1707.18 527.3 L1707.58 528.56 L1707.99 529.72 L1708.39 530.79 L1708.79 531.78 L1709.19 532.67 L1709.59 533.49 L1709.99 534.24 L1710.4 534.92 L1710.8 535.53 L1711.2 536.09 L1711.2 540.5 Z" fill="#DC143C" fill-opacity="0.7"/>
<path d="M1601.9 785.6 L1601.9 780.39 L1602.52 779.86 L1603.14 779.29 L1603.76 778.66 L1604.37 777.99 L1604.99 777.27 L1605.61 776.5 L1606.23 775.66 L1606.85 774.78 L1607.47 773.83 L1608.08 772.81 L1608.7 771.74 L1609.32 770.59 L1609.94 769.38 L1610.56 768.1 L1611.18 766.75 L1611.79 765.33 L1612.41 763.84 L1613.03 762.28 L1613.65 760.64 L1614.27 758.93 L1614.88 757.16 L1615.5 755.31 L1616.12 753.4 L1616.74 751.42 L1617.36 749.38 L1617.98 747.28 L1618.6 745.12 L1619.21 742.92 L1619.83 740.66 L1620.45 738.37 L1621.07 736.04 L1621.69 733.67 L1622.31 731.29 L1622.92 728.89 L1623.54 726.47 L1624.16 724.06 L1624.78 721.65 L1625.4 719.26 L1626.02 716.89 L1626.63 714.55 L1627.25 712.25 L1627.87 710 L1628.49 707.81 L1629.11 705.68 L1629.72 703.63 L1630.34 701.67 L1630.96 699.8 L1631.58 698.03 L1632.2 696.37 L1632.82 694.82 L1633.43 693.4 L1634.05 692.12 L1634.67 690.96 L1635.29 689.95 L1635.91 689.09 L1636.53 688.38 L1637.14 687.82 L1637.76 687.42 L1638.38 687.18 L1639 687.1 L1639.62 687.18 L1640.24 687.42 L1640.86 687.82 L1641.47 688.38 L1642.09 689.09 L1642.71 689.95 L1643.33 690.96 L1643.95 692.12 L1644.57 693.4 L1645.18 694.82 L1645.8 696.37 L1646.42 698.03 L1647.04 699.8 L1647.66 701.67 L1648.28 703.63 L1648.89 705.68 L1649.51 707.81 L1650.13 710 L1650.75 712.25 L1651.37 714.55 L1651.98 716.89 L1652.6 719.26 L1653.22 721.65 L1653.84 724.06 L1654.46 726.47 L1655.08 728.89 L1655.69 731.29 L1656.31 733.67 L1656.93 736.04 L1657.55 738.37 L1658.17 740.66 L1658.79 742.92 L1659.4 745.12 L1660.02 747.28 L1660.64 749.38 L1661.26 751.42 L1661.88 753.4 L1662.5 755.31 L1663.12 757.16 L1663.73 758.93 L1664.35 760.64 L1664.97 762.28 L1665.59 763.84 L1666.21 765.33 L1666.82 766.75 L1667.44 768.1 L1668.06 769.38 L1668.68 770.59 L1669.3 771.74 L1669.92 772.81 L1670.53 773.83 L1671.15 774.78 L1671.77 775.66 L1672.39 776.5 L1673.01 777.27 L1673.63 777.99 L1674.24 778.66 L1674.86 779.29 L1675.48 779.86 L1676.1 780.39 L1676.1 785.6 Z" fill="#9932CC" fill-opacity="0.7"/>
<path d="M1565 1030.5 L1565 1027.14 L1565.42 1026.68 L1565.83 1026.17 L1566.25 1025.6 L1566.67 1024.97 L1567.08 1024.27 L1567.5 1023.5 L1567.92 1022.65 L1568.33 1021.72 L1568.75 1020.69 L1569.17 1019.57 L1569.58 1018.35 L1570 1017.01 L1570.42 1015.57 L1570.83 1014 L1571.25 1012.31 L1571.67 1010.49 L1572.08 1008.54 L1572.5 1006.44 L1572.92 1004.21 L1573.33 1001.82 L1573.75 999.29 L1574.17 996.6 L1574.58 993.77 L1575 990.78 L1575.42 987.64 L1575.83 984.35 L1576.25 980.91 L1576.67 977.34 L1577.08 973.62 L1577.5 969.78 L1577.92 965.82 L1578.33 961.74 L1578.75 957.57 L1579.17 953.3 L1579.58 948.97 L1580 944.57 L1580.42 940.13 L1580.83 935.67 L1581.25 931.2 L1581.67 926.74 L1582.08 922.31 L1582.5 917.93 L1582.92 913.63 L1583.33 909.42 L1583.75 905.33 L1584.17 901.38 L1584.58 897.59 L1585 893.98 L1585.42 890.57 L1585.83 887.39 L1586.25 884.44 L1586.67 881.76 L1587.08 879.35 L1587.5 877.23 L1587.92 875.41 L1588.33 873.91 L1588.75 872.73 L1589.17 871.88 L1589.58 871.37 L1590 871.2 L1590.42 871.37 L1590.83 871.88 L1591.25 872.73 L1591.67 873.91 L1592.08 875.41 L1592.5 877.23 L1592.92 879.35 L1593.33 881.76 L1593.75 884.44 L1594.17 887.39 L1594.58 890.57 L1595 893.98 L1595.42 897.59 L1595.83 901.38 L1596.25 905.33 L1596.67 909.42 L1597.08 913.63 L1597.5 917.93 L1597.92 922.31 L1598.33 926.74 L1598.75 931.2 L1599.17 935.67 L1599.58 940.13 L1600 944.57 L1600.42 948.97 L1600.83 953.3 L1601.25 957.57 L1601.67 961.74 L1602.08 965.82 L1602.5 969.78 L1602.92 973.62 L1603.33 977.34 L1603.75 980.91 L1604.17 984.35 L1604.58 987.64 L1605 990.78 L1605.42 993.77 L1605.83 996.6 L1606.25 999.29 L1606.67 1001.82 L1607.08 1004.21 L1607.5 1006.44 L1607.92 1008.54 L1608.33 1010.49 L1608.75 1012.31 L1609.17 1014 L1609.58 1015.57 L1610 1017.01 L1610.42 1018.35 L1610.83 1019.57 L1611.25 1020.69 L1611.67 1021.72 L1612.08 1022.65 L1612.5 1023.5 L1612.92 1024.27 L1613.33 1024.97 L1613.75 1025.6 L1614.17 1026.17 L1614.58 1026.68 L1615 1027.14 L1615 1030.5 Z" fill="#E69F00" fill-opacity="0.7"/>
<path d="M1544.5 1275.5 L1559.7 1273.2 L1586.5 1270.4 L1596.9 1268.3 L1611.7 1265.4 L1625.1 1263.9 L1635.5 1261.2 L1645.9 1256.4 L1656.3 1255.3 L1671.2 1252.6 L1683 1250.8 L1690.5 1250.1 L1699.4 1252 L1705.3 1250.8 L1715.7 1252.3 L1726.1 1255.3 L1738 1259.4 L1752.9 1263.4 L1767.7 1267.9 L1782.6 1270.9 L1797.5 1272.6 L1807 1275.5 Z" fill="#009E73" fill-opacity="0.7" stroke-linejoin="round"/>
<rect x="1857.2" y="292.25" width="12" height="6.5" fill="#000"/>
<circle cx="1863.2" cy="295.5" r="9.6" fill="#000"/>
<rect x="1670.1" y="537.25" width="33.2" height="6.5" fill="#000"/>
<circle cx="1687.1" cy="540.5" r="9.6" fill="#000"/>
<rect x="1611.9" y="782.35" width="54.9" height="6.5" fill="#000"/>
<circle cx="1639.1" cy="785.6" r="9.6" fill="#000"/>
<rect x="1573" y="1027.25" width="33.7" height="6.5" fill="#000"/>
<circle cx="1589.9" cy="1030.5" r="9.6" fill="#000"/>
<rect x="1544.1" y="1272.25" width="263.5" height="6.5" fill="#000"/>
<circle cx="1684.9" cy="1275.5" r="9.6" fill="#000"/>
<text transform="translate(1396.7 1464.2) scale(1 1.04)" font-size="32.6" fill="#4D4D4D" text-anchor="middle">50</text>
<text transform="translate(1595.7 1464.2) scale(1 1.04)" font-size="32.6" fill="#4D4D4D" text-anchor="middle">100</text>
<text transform="translate(1794.6 1464.2) scale(1 1.04)" font-size="32.6" fill="#4D4D4D" text-anchor="middle">150</text>
<text transform="translate(1993.1 1464.2) scale(1 1.04)" font-size="32.6" fill="#4D4D4D" text-anchor="middle">200</text>
<text transform="translate(1639.4 1504.6) scale(1 1.04)" font-size="36" fill="#000" text-anchor="middle">Mean Serial Interval (days)</text>
<text transform="translate(1180.8 35.7) scale(1 1.04)" font-size="50.5" fill="#000" text-anchor="start" font-weight="bold">E</text>
<text transform="translate(1410.5 189.3) scale(1 1.04)" font-size="29.3" fill="#000" text-anchor="middle">Study</text>
<rect x="1276.2" y="214" width="36.7" height="36.7" fill="#E69F00" fill-opacity="0.7"/>
<rect x="1278" y="229.1" width="33" height="6.5" fill="#000"/>
<circle cx="1294.5" cy="232.35" r="9.4" fill="#000"/>
<text transform="translate(1335 240.9) scale(1 1.04)" font-size="25.1" fill="#000" text-anchor="start">Ariza et al</text>
<rect x="1276.2" y="255.45" width="36.7" height="36.7" fill="#9932CC" fill-opacity="0.7"/>
<rect x="1278" y="270.55" width="33" height="6.5" fill="#000"/>
<circle cx="1294.5" cy="273.8" r="9.4" fill="#000"/>
<text transform="translate(1335 282.35) scale(1 1.04)" font-size="25.1" fill="#000" text-anchor="start">Tjon&#8722;Kon&#8722;Fat et al</text>
<rect x="1276.2" y="296.9" width="36.7" height="36.7" fill="#009E73" fill-opacity="0.7"/>
<rect x="1278" y="312" width="33" height="6.5" fill="#000"/>
<circle cx="1294.5" cy="315.25" r="9.4" fill="#000"/>
<text transform="translate(1335 323.8) scale(1 1.04)" font-size="25.1" fill="#000" text-anchor="start">Pooled Effect</text>
<rect x="1276.2" y="338.35" width="36.7" height="36.7" fill="#DC143C" fill-opacity="0.7"/>
<rect x="1278" y="353.45" width="33" height="6.5" fill="#000"/>
<circle cx="1294.5" cy="356.7" r="9.4" fill="#000"/>
<text transform="translate(1335 365.25) scale(1 1.04)" font-size="25.1" fill="#000" text-anchor="start">Akunzirwe et al</text>
<rect x="1276.2" y="379.8" width="36.7" height="36.7" fill="#0072B2" fill-opacity="0.7"/>
<rect x="1278" y="394.9" width="33" height="6.5" fill="#000"/>
<circle cx="1294.5" cy="398.15" r="9.4" fill="#000"/>
<text transform="translate(1335 406.7) scale(1 1.04)" font-size="25.1" fill="#000" text-anchor="start">Kaburi et al</text>
</svg></body></html>
